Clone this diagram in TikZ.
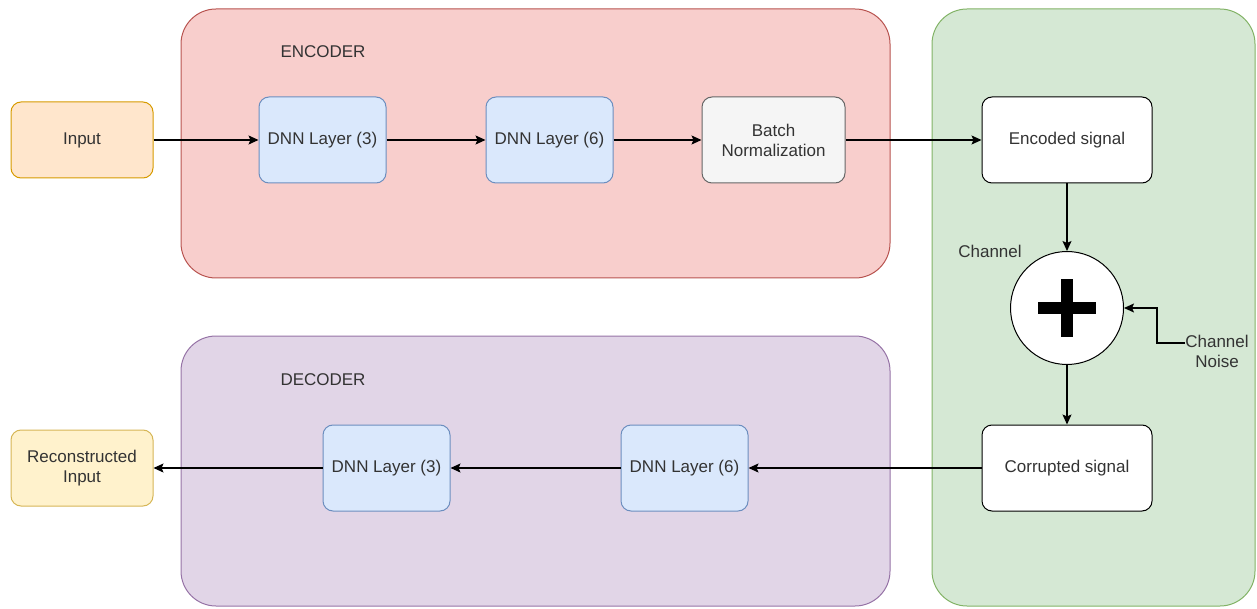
\documentclass[tikz,border=0pt]{standalone}
\usepackage{fontspec}
\setmainfont{Liberation Sans}
\usetikzlibrary{arrows.meta}
\definecolor{encF}{HTML}{F8CECC}\definecolor{encD}{HTML}{B85450}
\definecolor{decF}{HTML}{E1D5E7}\definecolor{decD}{HTML}{9673A6}
\definecolor{chF}{HTML}{D5E8D4}\definecolor{chD}{HTML}{82B366}
\definecolor{inF}{HTML}{FFE6CC}\definecolor{inD}{HTML}{D79B00}
\definecolor{outF}{HTML}{FFF2CC}\definecolor{outD}{HTML}{D6B656}
\definecolor{dnnF}{HTML}{DAE8FC}\definecolor{dnnD}{HTML}{6C8EBF}
\definecolor{bnF}{HTML}{F5F5F5}\definecolor{bnD}{HTML}{666666}
\definecolor{txt}{HTML}{333333}
\begin{document}
\begin{tikzpicture}[x=1pt,y=-1pt,
  every node/.style={font=\fontsize{17}{20}\selectfont, text=txt, align=center},
  group/.style={rounded corners=35pt, line width=1pt},
  blk/.style={rounded corners=10pt, line width=1pt, inner sep=0pt},
  link/.style={line width=1.2pt, -{Stealth[length=10pt,width=9pt,inset=2pt]}}]
\useasboundingbox (0,0) rectangle (1257,609);
% groups
\draw[group, fill=encF, draw=encD] (181,9) rectangle (890,278);
\draw[group, fill=decF, draw=decD] (181,336) rectangle (890,606);
\draw[group, fill=chF, draw=chD] (932,9) rectangle (1255,606);
\node (enclab) at (323,52) {ENCODER};
\node (declab) at (323,380) {DECODER};
% blocks
\node[blk, fill=inF, draw=inD, minimum width=142pt, minimum height=76pt] (in) at (82,140) {Input};
\node[blk, fill=dnnF, draw=dnnD, minimum width=127pt, minimum height=86pt] (e3) at (322.5,140) {DNN Layer (3)};
\node[blk, fill=dnnF, draw=dnnD, minimum width=127pt, minimum height=86pt] (e6) at (549.5,140) {DNN Layer (6)};
\node[blk, fill=bnF, draw=bnD, minimum width=143pt, minimum height=86pt] (bn) at (773.5,140) {Batch\\Normalization};
\node[blk, fill=white, draw=black, minimum width=170pt, minimum height=86pt] (enc) at (1067,140) {Encoded signal};
\node[circle, fill=white, draw=black, line width=1pt, minimum size=113pt, inner sep=0pt] (sum) at (1067,308) {};
\fill[black] (1038,302) rectangle (1096,314);
\fill[black] (1061,279) rectangle (1073,337);
\node (chlab) at (990,251) {Channel};
\node (noise) at (1217,351) {Channel\\Noise};
\node[blk, fill=white, draw=black, minimum width=170pt, minimum height=86pt] (cor) at (1067,468) {Corrupted signal};
\node[blk, fill=dnnF, draw=dnnD, minimum width=127pt, minimum height=86pt] (d6) at (684.5,468) {DNN Layer (6)};
\node[blk, fill=dnnF, draw=dnnD, minimum width=127pt, minimum height=86pt] (d3) at (386.5,468) {DNN Layer (3)};
\node[blk, fill=outF, draw=outD, minimum width=142pt, minimum height=76pt] (out) at (82,468) {Reconstructed\\Input};
% connectors
\draw[link] (in) -- (e3);
\draw[link] (e3) -- (e6);
\draw[link] (e6) -- (bn);
\draw[link] (bn) -- (enc);
\draw[link] (enc) -- (sum);
\coordinate (nz) at (1185,343);
\draw[link] (nz) -- (1157,343) -- (1157,308) -- (sum.east);
\draw[link] (sum) -- (cor);
\draw[link] (cor) -- (d6);
\draw[link] (d6) -- (d3);
\draw[link] (d3) -- (out);
\end{tikzpicture}
\end{document}
